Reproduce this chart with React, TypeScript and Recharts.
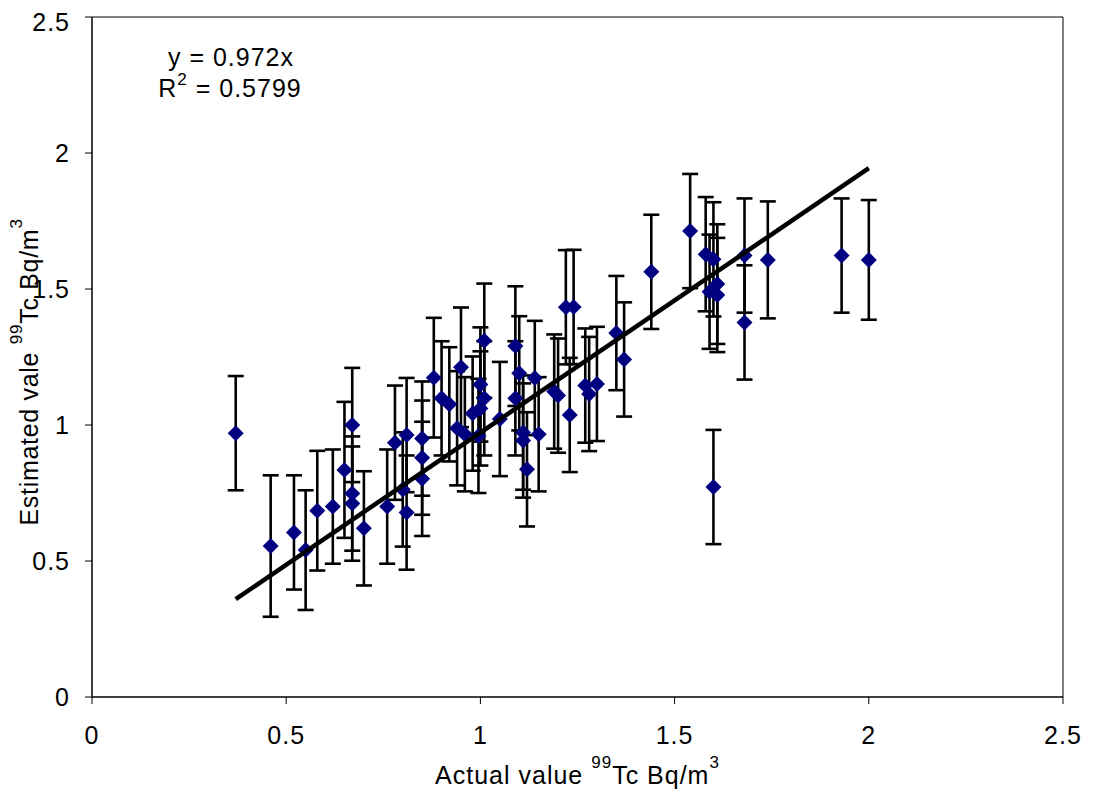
import React from "react";
import { ScatterChart, Scatter, XAxis, YAxis, ErrorBar, ReferenceArea, Label } from "recharts";

// actual value (x), estimated value (y), error half-width
const actual = [
  0.37, 0.46, 0.52, 0.55, 0.58, 0.62, 0.65, 0.67, 0.67, 0.67, 0.7, 0.76, 0.78, 0.8, 0.81, 0.81,
  0.85, 0.85, 0.85, 0.88, 0.9, 0.92, 0.94, 0.95, 0.96, 0.98, 0.995, 1.0, 1.0, 1.01, 1.01, 1.05,
  1.09, 1.09, 1.1, 1.11, 1.11, 1.12, 1.14, 1.15, 1.19, 1.2, 1.22, 1.24, 1.23, 1.27, 1.28, 1.3,
  1.35, 1.37, 1.44, 1.54, 1.58, 1.59, 1.6, 1.61, 1.61, 1.6, 1.68, 1.68, 1.74, 1.93, 2.0,
];
const estimated = [
  0.97, 0.555, 0.605, 0.54, 0.685, 0.7, 0.835, 1.0, 0.748, 0.711, 0.62, 0.7, 0.935, 0.763, 0.963, 0.678,
  0.95, 0.88, 0.802, 1.174, 1.098, 1.076, 0.988, 1.212, 0.966, 1.042, 0.96, 1.149, 1.061, 1.098, 1.31, 1.022,
  1.29, 1.098, 1.19, 0.972, 0.943, 0.837, 1.173, 0.966, 1.123, 1.108, 1.433, 1.434, 1.037, 1.145, 1.114, 1.151,
  1.338, 1.241, 1.563, 1.713, 1.628, 1.49, 1.609, 1.518, 1.478, 0.772, 1.623, 1.377, 1.607, 1.623, 1.607,
];
const errors = [
  0.21, 0.26, 0.21, 0.22, 0.22, 0.21, 0.25, 0.21, 0.21, 0.21, 0.21, 0.21, 0.21, 0.21, 0.21, 0.21,
  0.21, 0.21, 0.21, 0.22, 0.21, 0.21, 0.21, 0.22, 0.21, 0.21, 0.21, 0.21, 0.21, 0.21, 0.21, 0.21,
  0.22, 0.21, 0.21, 0.21, 0.21, 0.21, 0.21, 0.21, 0.21, 0.21, 0.21, 0.21, 0.21, 0.21, 0.21, 0.21,
  0.21, 0.21, 0.21, 0.21, 0.21, 0.21, 0.21, 0.22, 0.21, 0.21, 0.21, 0.21, 0.215, 0.21, 0.22,
];
const ticks = [0, 0.5, 1, 1.5, 2, 2.5];
const slope = 0.972;
const trendEnds = [0.37, 2.0];

const points = actual.map((x, i) => ({ x, y: estimated[i], err: errors[i] }));
const trend = trendEnds.map((x) => ({ x, y: slope * x }));

const FONT = "'Liberation Sans', Arial, sans-serif";

const Diamond = (props: any) => {
  const { cx, cy } = props;
  const r = 8;
  return <path d={`M${cx},${cy - r}L${cx + r},${cy}L${cx},${cy + r}L${cx - r},${cy}Z`} fill="#000080" />;
};

const XTitle = (props: any) => {
  const vb = props.viewBox;
  return (
    <text x={vb.x + vb.width / 2} y={vb.y + 87} textAnchor="middle" fontFamily={FONT} fontSize={25} letterSpacing={1} fill="#000">
      Actual value <tspan fontSize={17} dy={-16}>99</tspan>
      <tspan dy={16}>Tc Bq/m</tspan>
      <tspan fontSize={17} dy={-16}>3</tspan>
    </text>
  );
};

const YTitle = (props: any) => {
  const vb = props.viewBox;
  const cx = 30;
  const cy = vb.y + vb.height / 2 + 15;
  return (
    <text x={cx} y={cy} transform={`rotate(-90 ${cx} ${cy})`} textAnchor="middle" fontFamily={FONT} fontSize={25} letterSpacing={0.7} fill="#000">
      Estimated vale <tspan fontSize={17} dy={-16}>99</tspan>
      <tspan dy={16}>Tc Bq/m</tspan>
      <tspan fontSize={17} dy={-16}>3</tspan>
    </text>
  );
};

export default function App() {
  const tickStyle = { fontFamily: FONT, fontSize: 25, fill: "#000", letterSpacing: 1 };
  return (
    <ScatterChart width={1078} height={788} margin={{ top: 9, right: 23, left: 14, bottom: 19 }}>
      <XAxis
        type="number"
        dataKey="x"
        domain={[0, 2.5]}
        ticks={ticks}
        height={80}
        stroke="#000"
        tickSize={7}
        tickMargin={22}
        tick={tickStyle}
      >
        <Label content={XTitle} />
      </XAxis>
      <YAxis
        type="number"
        dataKey="y"
        domain={[0, 2.5]}
        ticks={ticks}
        width={70}
        stroke="#000"
        tickSize={7}
        tickMargin={15}
        tick={tickStyle}
      >
        <Label content={YTitle} />
      </YAxis>
      <ReferenceArea x1={0} x2={2.5} y1={0} y2={2.5} fill="none" stroke="#000" strokeWidth={1} />
      <Scatter data={points} shape={Diamond} isAnimationActive={false}>
        <ErrorBar dataKey="err" direction="y" width={8} stroke="#000" strokeWidth={2.6} />
      </Scatter>
      <Scatter
        data={trend}
        line={{ stroke: "#000", strokeWidth: 4.5 }}
        shape={() => <g />}
        isAnimationActive={false}
      />
      <text x={223} y={58} textAnchor="middle" fontFamily={FONT} fontSize={25} letterSpacing={1} fill="#000">
        y = 0.972x
      </text>
      <text x={222} y={89} textAnchor="middle" fontFamily={FONT} fontSize={25} letterSpacing={1} fill="#000">
        R<tspan fontSize={17} dy={-12}>2</tspan>
        <tspan dy={12}> = 0.5799</tspan>
      </text>
    </ScatterChart>
  );
}
